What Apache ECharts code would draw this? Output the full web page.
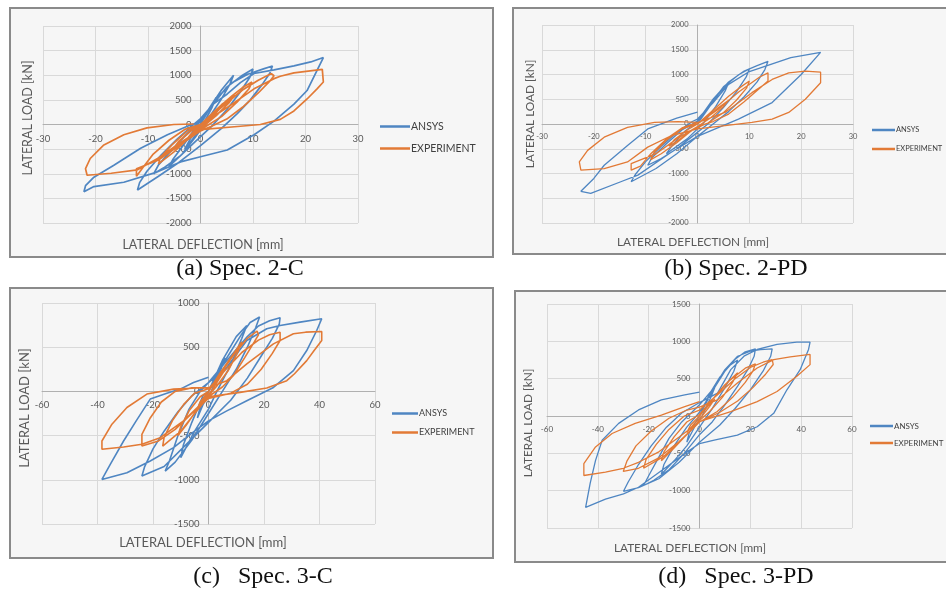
<!DOCTYPE html>
<html>
<head>
<meta charset="utf-8">
<script src="https://cdn.jsdelivr.net/npm/echarts@6/dist/echarts.min.js"></script>
<style>
  html, body { margin: 0; padding: 0; background: #fff; }
  #chart { width: 946px; height: 594px; }
</style>
</head>
<body>
<div id="chart"></div>
<script>
// axis ranges [min, max, interval]
const xRangeAB = [-30, 30, 10];
const yRangeAB = [-2000, 2000, 500];
const xRangeCD = [-60, 60, 20];
const yRangeC = [-1500, 1000, 500];
const yRangeD = [-1500, 1500, 500];

const seriesNames = ['ANSYS', 'EXPERIMENT'];
const captions = ['(a) Spec. 2-C', '(b) Spec. 2-PD', '(c)   Spec. 3-C', '(d)   Spec. 3-PD'];

// (a) Spec. 2-C  [deflection mm, load kN]
const ansysA = [
  [0,0],[1.5,300],[3,550],[2.2,350],[0.5,0],[-1.5,-300],[-3,-500],[-2,-300],[0,0],
  [2,380],[4,700],[6.3,1000],[5.6,820],[4,520],[1.5,120],[-1,-260],[-3.5,-600],[-6,-850],[-5.2,-700],[-3,-380],[-0.5,0],
  [2.5,420],[5,760],[8,1000],[10,1125],[9.4,960],[7.5,650],[5,300],[2,-50],[-1,-350],[-4,-650],[-7,-880],[-8.9,-1000],[-8,-820],[-5.5,-520],[-2.5,-180],[0,80],
  [3,520],[6,850],[9,1020],[12,1130],[13.7,1187],[13.2,1040],[11.8,820],[9.5,500],[7,220],[4,-80],[0,-430],[-4,-760],[-8,-1050],[-12,-1330],[-11.6,-1180],[-10.2,-950],[-7.5,-620],[-4.5,-300],[-1.5,-20],[0,120],
  [2.5,420],[5.1,620],[7.6,850],[10.2,1035],[14,1110],[17.8,1190],[21,1270],[23.4,1360],[22.2,1100],[20.3,690],[17.8,414],[14,69],[10.2,-207],[5.1,-517],[0,-655],[-3.8,-760],[-8.3,-966],[-14.6,-1173],[-20.3,-1260],[-22.2,-1366],[-21.9,-1242],[-20.3,-1070],[-16.5,-828],[-11.4,-483],[-6.3,-207],[-2.5,-35],[0,60]
];
const expA = [
  [0,0],[1.5,150],[3,300],[4.5,430],[3.5,300],[1.5,80],[0,-50],[-1.5,-200],[-3,-350],[-2,-220],[0,0],
  [2,200],[4,400],[6.5,600],[5.5,450],[3,180],[0.5,-40],[-2,-250],[-4,-420],[-5.2,-500],[-4.2,-350],[-2,-150],[0,0],
  [3,300],[6,580],[8,750],[9.8,862],[9.2,720],[7,460],[4,160],[1,-40],[-2,-250],[-5,-550],[-8,-800],[-7.6,-660],[-5.5,-420],[-2.5,-130],[0,0],
  [4,350],[8,700],[11,900],[13.5,1035],[14,990],[13.2,880],[11,640],[8,350],[5,110],[2,-40],[0,-130],[-4,-420],[-8,-720],[-12.2,-900],[-12.2,-1050],[-11,-880],[-9,-600],[-6,-320],[-3,-100],[0,0],
  [5.1,345],[10.2,724],[14,931],[15.2,980],[17.8,1049],[23.2,1118],[23.4,862],[22.2,724],[20.3,518],[17.8,276],[15.2,104],[11.4,0],[7.6,-35],[0,-104],[-4,-380],[-8,-680],[-12,-920],[-17,-990],[-21.6,-1030],[-21.9,-897],[-21,-690],[-18.4,-414],[-14.6,-207],[-10.2,-69],[-5.1,0],[-1.3,10]
];

// (b) Spec. 2-PD
const ansysB = [
  [0,0],[2,300],[4,600],[6,833],[5.4,680],[3.5,350],[1,0],[-2,-300],[-4,-450],[-6,-600],[-5,-450],[-2.5,-150],[0,50],
  [2.5,400],[5,750],[8,1000],[10,1113],[9.4,950],[7.5,650],[5,330],[2,0],[-1,-250],[-4,-500],[-7,-700],[-9.6,-833],[-8.8,-680],[-6,-400],[-3,-120],[0,60],
  [3,500],[6,850],[9,1070],[11.5,1180],[13.6,1267],[13,1100],[11.5,850],[9,550],[6,250],[3,0],[0,-250],[-4,-600],[-8,-900],[-12.8,-1167],[-12,-1020],[-10,-760],[-7,-450],[-4,-170],[-1,50],[0,100],
  [3,430],[6,800],[10,1060],[14,1200],[18,1340],[23.75,1447],[20,1000],[14.4,433],[7.9,100],[0,-250],[-5,-567],[-11.5,-1033],[-14.8,-1167],[-20.6,-1400],[-22.5,-1360],[-20,-1100],[-18,-833],[-13.5,-433],[-9.6,-100],[-4,120],[0,240]
];
const expB = [
  [0,0],[2,150],[4,330],[6,480],[5,350],[2.5,120],[0,-50],[-2,-200],[-4,-350],[-5.5,-450],[-4.5,-320],[-2,-120],[0,0],
  [3,280],[6,560],[8.5,760],[10,867],[9.5,730],[7.5,480],[5,230],[2,20],[-1,-120],[-4,-380],[-7,-600],[-9,-720],[-8.4,-580],[-6,-330],[-3,-100],[0,0],
  [4,300],[8,650],[12,950],[13.6,1033],[13.6,867],[12,720],[9,450],[6,200],[3,50],[0,-50],[-4,-300],[-8,-600],[-12.8,-800],[-12.8,-933],[-11,-850],[-9,-600],[-6,-300],[-3,-80],[0,30],
  [5.3,233],[10.5,633],[14.4,900],[17.6,1033],[20.8,1067],[23.75,1047],[23.75,833],[20.8,500],[17.6,233],[14.4,100],[10.5,33],[5.3,-33],[0,-100],[-5,-233],[-9.6,-467],[-13.5,-767],[-18,-900],[-22.5,-933],[-22.8,-767],[-21.2,-533],[-18,-267],[-13.5,-67],[-8.3,33],[-3.8,47],[0,33]
];

// (c) Spec. 3-C
const ansysC = [
  [0,0],[3,200],[6,380],[4.5,250],[1,0],[-2,-150],[-4,-300],[-3,-180],[0,0],
  [5,350],[10,620],[13.8,746],[12,600],[8,300],[3,0],[0,-200],[-5,-450],[-10,-750],[-9,-600],[-6,-350],[-2,-50],[0,0],
  [6,350],[12,650],[15,780],[18.4,841],[17,720],[14,500],[10,250],[5,0],[0,-250],[-6,-550],[-12,-800],[-15.6,-901],[-14,-780],[-11,-500],[-7,-200],[-3,0],[0,100],
  [8,400],[14,620],[18,740],[22,800],[25.8,833],[25.5,760],[23,600],[19,400],[14,150],[8,-100],[0,-350],[-8,-600],[-16,-850],[-24,-958],[-23,-850],[-20,-650],[-16,-450],[-11,-230],[-6,-50],[0,100],
  [6.6,273],[13.8,576],[21,708],[25.8,746],[33,784],[40.8,822],[39,689],[35.4,462],[30.6,235],[23.4,45],[13.8,-106],[6.6,-220],[0,-333],[-6.6,-485],[-12.6,-636],[-21,-788],[-29.4,-920],[-38.4,-996],[-35.4,-826],[-30.6,-561],[-26,-330],[-21,-87],[-15,-20],[-10.2,26],[-5.4,100],[0,160]
];
const expC = [
  [0,0],[3,130],[6,250],[4,150],[1,0],[-2,-100],[-4,-200],[-3,-120],[0,0],
  [4,200],[8,380],[12,560],[10.5,440],[7,230],[3,60],[0,-50],[-4,-200],[-8,-380],[-11,-500],[-10,-400],[-7,-220],[-3,-60],[0,0],
  [5,230],[10,450],[14,600],[17.5,682],[18,640],[16.5,560],[13,380],[9,180],[5,50],[0,-60],[-5,-250],[-10,-450],[-16.5,-620],[-16,-520],[-13,-330],[-9,-150],[-5,-20],[0,30],
  [6,240],[12,440],[18,580],[22,640],[25.8,670],[25.8,576],[23,430],[19,250],[14,80],[8,-20],[0,-80],[-6,-250],[-12,-430],[-18,-560],[-24,-617],[-24,-485],[-21,-300],[-17,-120],[-12,0],[-6,40],[0,40],
  [6.6,121],[13.8,311],[23.4,538],[30.6,652],[35,670],[40.8,678],[40.8,576],[38,460],[35.4,348],[31,200],[28.2,121],[21,38],[11.4,-11],[0,-60],[-9,-333],[-17.4,-523],[-24,-598],[-30.6,-629],[-38.4,-655],[-38.4,-561],[-34.8,-371],[-29.4,-182],[-22.2,-30],[-12.6,26],[-4.2,38],[0,40]
];

// (d) Spec. 3-PD
const ansysD = [
  [0,0],[3,200],[6,380],[4.5,250],[1,0],[-2,-150],[-5,-350],[-4,-220],[0,0],
  [4,300],[8,520],[12,680],[15,750],[13.5,600],[10,380],[5,100],[0,-150],[-5,-400],[-10,-600],[-15,-780],[-14,-650],[-10,-400],[-5,-150],[0,50],
  [5,330],[10,600],[14,760],[18,860],[22,900],[21.5,800],[19,620],[15,400],[10,150],[5,-80],[0,-250],[-6,-500],[-12,-720],[-18,-860],[-22,-931],[-20,-800],[-16,-550],[-12,-300],[-7,-80],[-3,50],[0,150],
  [5,350],[10,620],[15,800],[20,870],[24,890],[28.6,900],[28,800],[25,600],[20,350],[14,100],[8,-120],[0,-350],[-8,-620],[-16,-840],[-24,-960],[-29.9,-1008],[-28,-880],[-24,-650],[-19,-400],[-13,-150],[-7,40],[0,180],
  [7.1,306],[12.3,621],[17.5,801],[22.7,891],[30.5,959],[38.3,990],[43.5,990],[42.9,891],[39.6,621],[34.4,351],[29.2,36],[22.7,-144],[14.9,-257],[5.8,-324],[0,-369],[-5.8,-504],[-14.9,-729],[-24,-954],[-29.9,-1044],[-37,-1112],[-44.8,-1224],[-43,-900],[-40.9,-594],[-38.3,-324],[-31.8,-99],[-24,81],[-15,216],[-5.8,283],[0,320]
];
const expD = [
  [0,0],[3,120],[6,230],[4,130],[1,0],[-2,-100],[-5,-220],[-3.5,-120],[0,0],
  [5,220],[10,420],[15,580],[13,450],[9,250],[4,60],[0,-60],[-5,-250],[-10,-430],[-15,-600],[-14,-480],[-10,-280],[-5,-80],[0,20],
  [6,260],[12,480],[18,640],[22,700],[21,600],[18,450],[13,250],[7,60],[0,-80],[-7,-320],[-14,-540],[-22,-700],[-21,-580],[-17,-380],[-12,-180],[-6,0],[0,80],
  [7,280],[14,500],[20,650],[25,720],[28.6,756],[29,690],[26,560],[21,380],[15,200],[8,50],[0,-80],[-8,-340],[-16,-560],[-24,-700],[-30,-742],[-28.5,-600],[-25,-400],[-19,-200],[-12,-30],[-5,80],[0,120],
  [7.1,216],[14.9,441],[22.7,643],[29.2,756],[35.7,792],[43.5,824],[43.5,688],[38.3,531],[30.5,328],[22.7,193],[12.3,58],[0,-76],[-8,-280],[-16,-480],[-24,-620],[-30,-700],[-37,-751],[-45.5,-797],[-45.5,-639],[-40.9,-414],[-34.4,-234],[-25.3,-99],[-15,13],[-5.8,126],[0,193]
];

const colors = ['#4f86c2', '#e27a36'];
const grey = '#595959';
const font = 'Lato, "Open Sans", sans-serif';

// layout of the four panels
const panels = [
  { box: [10, 8, 483, 249], grid: [43, 26, 315, 197], x: xRangeAB, y: yRangeAB, data: [ansysA, expA],
    tick: 9.5, leg: [375, 116, 30, 10.5, 11], yt: [28, 118], xt: [203, 245], tf: 12.5, cap: [240, 269], lw: 1.7 },
  { box: [513, 8, 440, 246], grid: [542, 25, 311, 198], x: xRangeAB, y: yRangeAB, data: [ansysB, expB],
    tick: 7.5, leg: [867, 121, 23, 7.5, 11], yt: [530, 114], xt: [693, 242], tf: 11.8, cap: [736, 269], lw: 1.3 },
  { box: [10, 288, 483, 270], grid: [42, 303, 333, 221], x: xRangeCD, y: yRangeC, data: [ansysC, expC],
    tick: 9.5, leg: [387, 404, 26, 9, 10], yt: [25, 408], xt: [203, 543], tf: 13, cap: [263, 577], lw: 1.6 },
  { box: [515, 291, 440, 271], grid: [547, 304, 305, 224], x: xRangeCD, y: yRangeD, data: [ansysD, expD],
    tick: 8, leg: [865, 417, 23, 8, 9], yt: [528, 423], xt: [690, 548], tf: 11.8, cap: [736, 577], lw: 1.3 }
];

const option = {
  animation: false,
  grid: [], xAxis: [], yAxis: [], series: [], legend: [], graphic: []
};

panels.forEach(function (p, i) {
  option.grid.push({ left: p.grid[0], top: p.grid[1], width: p.grid[2], height: p.grid[3] });
  // axes cross at zero, labels travel with the axis line
  const zeroX = p.grid[2] * (0 - p.x[0]) / (p.x[1] - p.x[0]);
  const zeroY = p.grid[3] * (0 - p.y[0]) / (p.y[1] - p.y[0]);
  const axisBase = {
    type: 'value', gridIndex: i,
    axisLine: { onZero: false, lineStyle: { color: '#b0b0b0', width: 1 } },
    axisTick: { show: false },
    splitLine: { show: true, lineStyle: { color: '#d9d9d9', width: 1 } },
    axisLabel: { color: grey, fontSize: p.tick, fontFamily: font, margin: 9, formatter: function (v) { return String(v); } }
  };
  option.xAxis.push(Object.assign({}, axisBase, {
    position: 'bottom', offset: -zeroY, min: p.x[0], max: p.x[1], interval: p.x[2]
  }));
  option.yAxis.push(Object.assign({}, axisBase, {
    position: 'left', offset: -zeroX, min: p.y[0], max: p.y[1], interval: p.y[2]
  }));
  p.data.forEach(function (d, k) {
    option.series.push({
      name: seriesNames[k], type: 'line', xAxisIndex: i, yAxisIndex: i,
      data: d, showSymbol: false, symbol: 'none', color: colors[k],
      lineStyle: { width: p.lw, color: colors[k] }, z: k === 0 ? 3 : 4
    });
  });
  option.legend.push({
    data: seriesNames, orient: 'vertical', left: p.leg[0], top: p.leg[1],
    itemWidth: p.leg[2], itemHeight: 2.5, itemGap: p.leg[4], icon: 'rect',
    textStyle: { fontSize: p.leg[3], color: '#404040', fontFamily: font, padding: [0, 0, 0, -4] }
  });
  option.graphic.push(
    { type: 'rect', z: -10, shape: { x: p.box[0], y: p.box[1], width: p.box[2], height: p.box[3] },
      style: { fill: '#f6f6f6', stroke: '#8a8a8a', lineWidth: 2 } },
    { type: 'text', x: p.yt[0], y: p.yt[1], rotation: Math.PI / 2,
      style: { text: 'LATERAL LOAD [kN]', fill: grey, font: p.tf + 'px ' + font, textAlign: 'center', textVerticalAlign: 'middle' } },
    { type: 'text', x: p.xt[0], y: p.xt[1],
      style: { text: 'LATERAL DEFLECTION [mm]', fill: grey, font: p.tf + 'px ' + font, textAlign: 'center', textVerticalAlign: 'middle' } },
    { type: 'text', x: p.cap[0], y: p.cap[1],
      style: { text: captions[i], fill: '#111', font: '24px "Liberation Serif", "Times New Roman", serif', textAlign: 'center', textVerticalAlign: 'middle' } }
  );
});

const chart = echarts.init(document.getElementById('chart'));
chart.setOption(option);
</script>
</body>
</html>
